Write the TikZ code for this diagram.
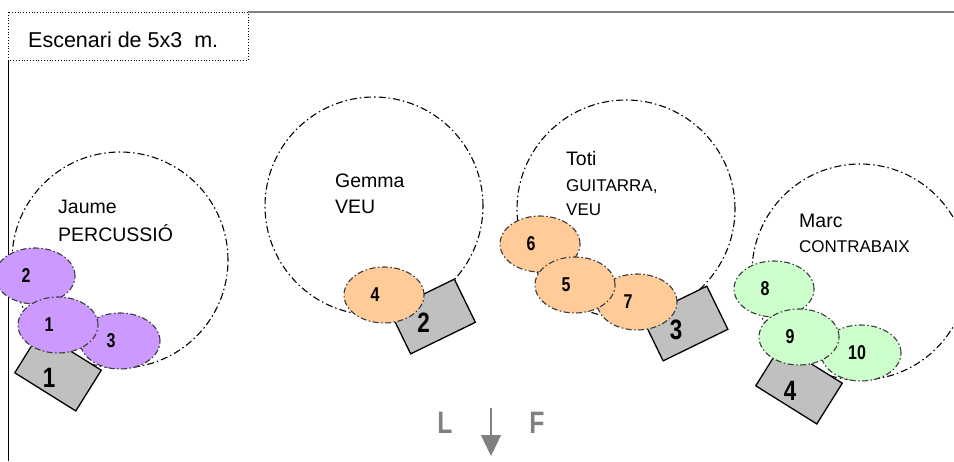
\documentclass[tikz,border=0pt]{standalone}
\usepackage{fontspec}
\setmainfont{Liberation Sans}
\newfontfamily\narrowfont[FakeStretch=0.8]{Liberation Sans}
\usepackage{tikz}
\usepackage{xcolor}
\usetikzlibrary{arrows.meta,positioning,shapes.geometric}
\definecolor{ink}     {HTML}{3A3A3A}
\definecolor{ampgray} {HTML}{C0C0C0}
\definecolor{lila}    {HTML}{CC99FF}
\definecolor{orangepl}{HTML}{FFCC99}
\definecolor{greenpl} {HTML}{CCFFCC}
\definecolor{signgray}{HTML}{808080}
\tikzset{
  zone/.style={circle,draw=black,line width=1.1pt,
               dash pattern=on 7pt off 3pt on 1.5pt off 3pt,
               minimum size=#1,inner sep=0pt},
  mic/.style={ellipse,draw=ink,fill=#1,line width=1.1pt,
              dash pattern=on 6pt off 2.5pt on 1.5pt off 2.5pt,
              minimum width=80pt,minimum height=56pt,inner sep=0pt},
  amp/.style={draw=black,fill=ampgray,line width=1.3pt,
              minimum width=72pt,minimum height=48pt,inner sep=0pt},
  who/.style={anchor=base west,inner sep=0pt,font=\fontsize{19.5}{22}\selectfont},
  what/.style={anchor=base west,inner sep=0pt,font=\fontsize{#1}{20}\selectfont},
  numtxt/.style={inner sep=0pt,font=\narrowfont\bfseries\fontsize{20}{22}\selectfont},
  ampnum/.style={inner sep=0pt,font=\narrowfont\bfseries\fontsize{28}{30}\selectfont},
  side/.style={inner sep=0pt,text=signgray,font=\narrowfont\bfseries\fontsize{31}{33}\selectfont}
}

\begin{document}
\begin{tikzpicture}[x=1pt,y=-1pt]
  \useasboundingbox (0,0) rectangle (954,461);

  % frame of the stage
  \draw[black,line width=0.8pt,dotted] (8,12) rectangle (248,60);
  \draw[black,line width=1pt] (8,60) -- (8,461);
  \draw[signgray,line width=2pt] (248,12) -- (954,12);
  \node[anchor=base west,inner sep=0pt,font=\fontsize{21.5}{24}\selectfont]
    (title) at (28,47) {Escenari de 5x3\ \ m.};

  % zones
  \node[zone=216pt] (jaumezone) at (120,260) {};
  \node[zone=218pt] (gemmazone) at (374,206) {};
  \node[zone=218pt] (totizone)  at (626,209) {};
  \node[zone=216pt] (marczone)  at (860,272) {};

  \node[who]      (jaume) at (58,213)  {Jaume};
  \node[what=19.5](perc)  at (58,241)  {PERCUSSIÓ};
  \node[who]      (gemma) at (335,187) {Gemma};
  \node[what=19.5](veua)  at (335,213) {VEU};
  \node[who]      (toti)  at (566,165) {Toti};
  \node[what=17]  (guit)  at (566,191) {GUITARRA,};
  \node[what=17]  (veub)  at (566,215) {VEU};
  \node[who]      (marc)  at (799,227) {Marc};
  \node[what=17]  (cbaix) at (799,252) {CONTRABAIX};

  % amplifiers
  \node[amp,rotate=-32] (a1) at (58,371.5)  {};
  \node[amp,rotate=26]  (a2) at (432.5,316.5) {};
  \node[amp,rotate=26]  (a3) at (685,323.5) {};
  \node[amp,rotate=-32] (a4) at (799,384.5) {};

  % microphones
  \node[mic=lila] (m3) at (120,341) {};
  \node[mic=lila] (m2) at (35,276)  {};
  \node[mic=lila] (m1) at (58,325)  {};
  \node[mic=orangepl] (m4) at (384,295) {};
  \node[mic=orangepl] (m7) at (637,302) {};
  \node[mic=orangepl] (m6) at (540,244) {};
  \node[mic=orangepl] (m5) at (575,285) {};
  \node[mic=greenpl] (m8)  at (774,289) {};
  \node[mic=greenpl] (m10) at (861,353) {};
  \node[mic=greenpl] (m9)  at (799,337) {};

  \foreach \m in {1,...,9}
    \node[numtxt] (t\m) at ([xshift=-9pt]m\m.center) {\m};
  \node[numtxt] (t10) at ([xshift=-4pt]m10.center) {10};

  \foreach \a in {1,...,4}
    \node[ampnum] (b\a) at ([xshift=-9pt,yshift=-6pt]a\a.center) {\a};

  % direction
  \coordinate (dirtop) at (491,408);
  \coordinate (dirtip) at (491,456);
  \draw[signgray,line width=1.4pt,-{Triangle[width=20pt,length=21pt]}] (dirtop) -- (dirtip);
  \node[side] (left)  at (445,423) {L};
  \node[side] (front) at (537,423) {F};
\end{tikzpicture}
\end{document}
